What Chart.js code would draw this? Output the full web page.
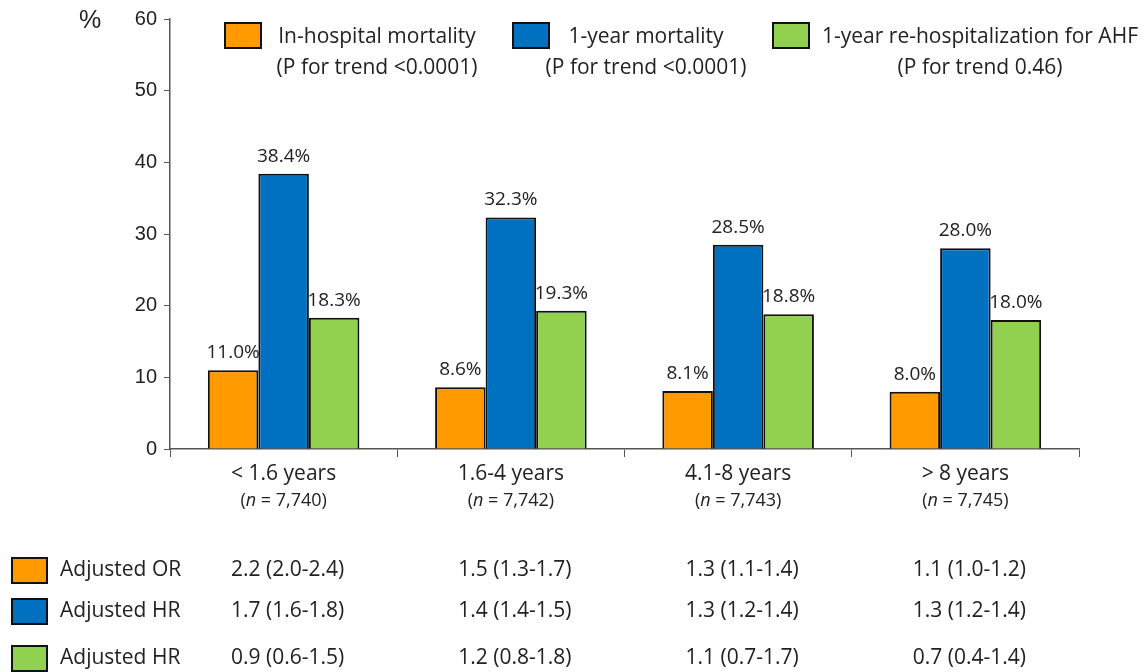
<!DOCTYPE html>
<html>
<head>
<meta charset="utf-8">
<script src="https://cdn.jsdelivr.net/npm/chart.js@4/dist/chart.umd.min.js"></script>
<style>
  html, body { margin: 0; padding: 0; background: #fff; }
  #wrap { width: 1148px; height: 672px; position: relative; }
</style>
</head>
<body>
<div id="wrap"><canvas id="chart"></canvas></div>
<script>
const categories = ['< 1.6 years', '1.6-4 years', '4.1-8 years', '> 8 years'];
const counts = ['7,740', '7,742', '7,743', '7,745'];

const inHospital = [11.0, 8.6, 8.1, 8.0];
const oneYearMort = [38.4, 32.3, 28.5, 28.0];
const rehosp = [18.3, 19.3, 18.8, 18.0];

const seriesNames = ['In-hospital mortality', '1-year mortality', '1-year re-hospitalization for AHF'];
const trendNotes = ['(P for trend <0.0001)', '(P for trend <0.0001)', '(P for trend 0.46)'];

const yTicks = [0, 10, 20, 30, 40, 50, 60];

const tableLabels = ['Adjusted OR', 'Adjusted HR', 'Adjusted HR'];
const orRow = ['2.2 (2.0-2.4)', '1.5 (1.3-1.7)', '1.3 (1.1-1.4)', '1.1 (1.0-1.2)'];
const hrMortRow = ['1.7 (1.6-1.8)', '1.4 (1.4-1.5)', '1.3 (1.2-1.4)', '1.3 (1.2-1.4)'];
const hrRehospRow = ['0.9 (0.6-1.5)', '1.2 (0.8-1.8)', '1.1 (0.7-1.7)', '0.7 (0.4-1.4)'];

const colors = ['#ff9900', '#0070c0', '#92d050'];
const sans = '"Open Sans", Lato, sans-serif';
const arial = '"Liberation Sans", Arial, sans-serif';

// value labels above the bars
const barLabels = {
  id: 'barLabels',
  afterDatasetsDraw(chart) {
    const ctx = chart.ctx;
    ctx.save();
    ctx.font = '19px ' + sans;
    ctx.fillStyle = '#222';
    ctx.textAlign = 'center';
    ctx.textBaseline = 'bottom';
    chart.data.datasets.forEach((ds, i) => {
      chart.getDatasetMeta(i).data.forEach((bar, j) => {
        ctx.fillText(ds.data[j].toFixed(1) + '%', bar.x, bar.y - 8);
      });
    });
    ctx.restore();
  }
};

// legend, x labels, axis title and the table underneath
const extras = {
  id: 'extras',
  afterDraw(chart) {
    const ctx = chart.ctx;
    const x = chart.scales.x;
    const area = chart.chartArea;
    ctx.save();

    // "%" title
    ctx.font = '25px ' + arial;
    ctx.fillStyle = '#222';
    ctx.textAlign = 'left';
    ctx.textBaseline = 'middle';
    ctx.fillText('%', 79, 21);

    // top legend
    const boxX = [225, 513, 773];
    const textCx = [377, 646, 980];
    ctx.font = '21px ' + sans;
    for (let i = 0; i < 3; i++) {
      ctx.fillStyle = colors[i];
      ctx.fillRect(boxX[i], 23, 36, 25);
      ctx.lineWidth = 2;
      ctx.strokeStyle = '#111';
      ctx.strokeRect(boxX[i], 23, 36, 25);
      ctx.fillStyle = '#222';
      ctx.textAlign = 'center';
      ctx.fillText(seriesNames[i], textCx[i], 37);
      ctx.fillText(trendNotes[i], textCx[i], 68);
    }

    // category labels
    categories.forEach((c, i) => {
      const cx = x.getPixelForValue(i);
      ctx.textAlign = 'center';
      ctx.fillStyle = '#222';
      ctx.font = '21px ' + sans;
      ctx.fillText(c, cx, area.bottom + 25);
      // second line with italic n
      const parts = [['(', 'normal'], ['n', 'italic'], [' = ' + counts[i] + ')', 'normal']];
      let w = 0;
      parts.forEach(p => { ctx.font = p[1] + ' 18px ' + sans; w += ctx.measureText(p[0]).width; });
      let px = cx - w / 2;
      ctx.textAlign = 'left';
      parts.forEach(p => {
        ctx.font = p[1] + ' 18px ' + sans;
        ctx.fillText(p[0], px, area.bottom + 52);
        px += ctx.measureText(p[0]).width;
      });
    });

    // table
    const rows = [orRow, hrMortRow, hrRehospRow];
    const rowY = [570, 611, 658];
    rows.forEach((row, r) => {
      ctx.fillStyle = colors[r];
      ctx.fillRect(12, rowY[r] - 12, 35, 25);
      ctx.lineWidth = 2;
      ctx.strokeStyle = '#111';
      ctx.strokeRect(12, rowY[r] - 12, 35, 25);
      ctx.fillStyle = '#222';
      ctx.font = '21px ' + sans;
      ctx.textAlign = 'left';
      ctx.fillText(tableLabels[r], 60, rowY[r]);
      ctx.textAlign = 'center';
      row.forEach((txt, i) => {
        ctx.fillText(txt, x.getPixelForValue(i) + 4, rowY[r]);
      });
    });
    ctx.restore();
  }
};

new Chart(document.getElementById('chart'), {
  type: 'bar',
  data: {
    labels: categories,
    datasets: seriesNames.map((name, i) => ({
      label: name,
      data: [inHospital, oneYearMort, rehosp][i],
      backgroundColor: colors[i],
      borderColor: '#111',
      borderWidth: 2,
      barPercentage: 1,
      categoryPercentage: 0.667
    }))
  },
  options: {
    responsive: true,
    maintainAspectRatio: false,
    animation: false,
    layout: { padding: { left: 110, right: 69, top: 19, bottom: 213 } },
    plugins: {
      legend: { display: false },
      tooltip: { enabled: false }
    },
    scales: {
      x: {
        afterFit(scale) { scale.height = 10; },
        grid: { offset: true, drawOnChartArea: false, drawTicks: true, tickLength: 8, color: '#555' },
        border: { color: '#555', width: 1.5 },
        ticks: { display: false }
      },
      y: {
        min: 0,
        max: 60,
        afterFit(scale) { scale.width = 60; },
        afterBuildTicks(scale) { scale.ticks = yTicks.map(v => ({ value: v })); },
        grid: { drawOnChartArea: false, drawTicks: true, tickLength: 6, color: '#555' },
        border: { color: '#555', width: 1.5 },
        ticks: { font: { family: arial, size: 20 }, color: '#222', padding: 7 }
      }
    }
  },
  plugins: [barLabels, extras]
});
</script>
</body>
</html>
